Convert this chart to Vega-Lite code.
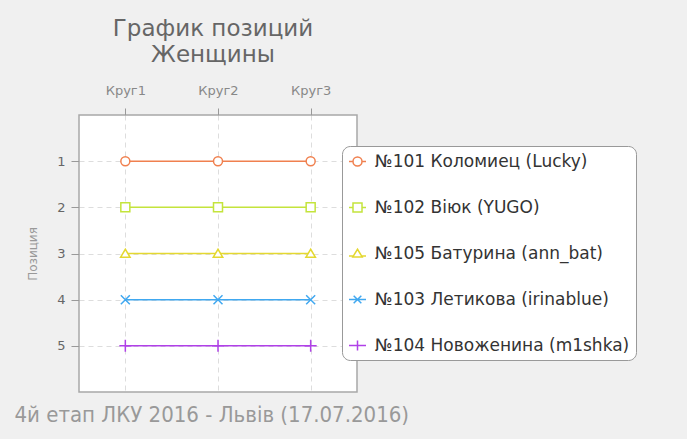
{
  "$schema": "https://vega.github.io/schema/vega-lite/v6.json",
  "autosize": "none",
  "width": 278,
  "height": 277,
  "padding": {"left": 79, "top": 115, "right": 330, "bottom": 47},
  "background": "#f0f0f0",
  "title": {
    "text": ["График позиций", "Женщины"],
    "fontSize": 23,
    "font": "DejaVu Sans",
    "fontWeight": "normal",
    "color": "#666666",
    "lineHeight": 26,
    "anchor": "middle",
    "dx": -5,
    "offset": 17
  },
  "config": {
    "font": "DejaVu Sans",
    "view": {"stroke": "#a8a8a8", "strokeWidth": 1.5, "fill": "white"},
    "legend": {
      "orient": "none", "legendX": 263, "legendY": 31,
      "fillColor": "white", "strokeColor": "#999999", "cornerRadius": 8,
      "padding": 6,
      "rowPadding": 28,
      "symbolSize": 289, "symbolStrokeWidth": 1.5, "symbolOpacity": 1,
      "labelFontSize": 17, "labelColor": "#333333", "labelOffset": 8, "labelLimit": 400, "labelBaseline": "middle"
    },
    "axisX": {
      "labelAngle": 0, "labelColor": "#888888", "labelFontSize": 13, "labelPadding": 11,
      "tickColor": "#999999", "tickSize": 7, "domain": false,
      "gridColor": "#dddddd", "gridDash": [5, 4]
    },
    "axisY": {
      "titleColor": "#999999", "titleFontSize": 12, "titleFontWeight": "normal", "titlePadding": 17,
      "labelColor": "#666666", "labelFontSize": 13, "labelPadding": 6,
      "tickColor": "#999999", "tickSize": 8, "domain": false,
      "grid": true, "gridColor": "#dddddd", "gridDash": [5, 4]
    }
  },
  "data": {
    "values": [
      {"name": "№101 Коломиец (Lucky)", "round": "Круг1", "pos": 1},
      {"name": "№101 Коломиец (Lucky)", "round": "Круг2", "pos": 1},
      {"name": "№101 Коломиец (Lucky)", "round": "Круг3", "pos": 1},
      {"name": "№102 Вiюк (YUGO)", "round": "Круг1", "pos": 2},
      {"name": "№102 Вiюк (YUGO)", "round": "Круг2", "pos": 2},
      {"name": "№102 Вiюк (YUGO)", "round": "Круг3", "pos": 2},
      {"name": "№105 Батурина (ann_bat)", "round": "Круг1", "pos": 3},
      {"name": "№105 Батурина (ann_bat)", "round": "Круг2", "pos": 3},
      {"name": "№105 Батурина (ann_bat)", "round": "Круг3", "pos": 3},
      {"name": "№103 Летикова (irinablue)", "round": "Круг1", "pos": 4},
      {"name": "№103 Летикова (irinablue)", "round": "Круг2", "pos": 4},
      {"name": "№103 Летикова (irinablue)", "round": "Круг3", "pos": 4},
      {"name": "№104 Новоженина (m1shka)", "round": "Круг1", "pos": 5},
      {"name": "№104 Новоженина (m1shka)", "round": "Круг2", "pos": 5},
      {"name": "№104 Новоженина (m1shka)", "round": "Круг3", "pos": 5}
    ]
  },
  "encoding": {
    "y": {
      "field": "pos", "type": "quantitative",
      "scale": {"domain": [0, 6], "reverse": true, "nice": false, "zero": false},
      "axis": {"values": [1, 2, 3, 4, 5], "title": "Позиция"}
    },
    "color": {
      "field": "name", "type": "nominal",
      "scale": {
        "domain": ["№101 Коломиец (Lucky)", "№102 Вiюк (YUGO)", "№105 Батурина (ann_bat)", "№103 Летикова (irinablue)", "№104 Новоженина (m1shka)"],
        "range": ["#f0804f", "#c4e43c", "#e4d830", "#40a8f0", "#b040e8"]
      },
      "legend": {"title": null}
    }
  },
  "layer": [
    {
      "mark": {"type": "line", "strokeWidth": 1.5},
      "encoding": {
        "x": {
          "field": "round", "type": "nominal",
          "scale": {"type": "point", "padding": 0.5},
          "axis": {"orient": "top", "title": null, "grid": true}
        }
      }
    },
    {
      "transform": [{"filter": "datum.pos === 1"}],
      "mark": {"type": "point", "filled": false, "fill": "white", "strokeWidth": 1.5, "size": 100, "opacity": 1, "shape": "M0.9,0A0.9,0.9,0,1,1,-0.9,0A0.9,0.9,0,1,1,0.9,0Z"},
      "encoding": {"x": {"field": "round", "type": "nominal", "axis": null}}
    },
    {
      "transform": [{"filter": "datum.pos === 2"}],
      "mark": {"type": "point", "filled": false, "fill": "white", "strokeWidth": 1.5, "size": 100, "opacity": 1, "shape": "M-0.9,-0.9H0.9V0.9H-0.9Z"},
      "encoding": {"x": {"field": "round", "type": "nominal", "axis": null}}
    },
    {
      "transform": [{"filter": "datum.pos === 3"}],
      "mark": {"type": "point", "filled": false, "fill": "white", "strokeWidth": 1.5, "size": 100, "opacity": 1, "shape": "M0,-0.85L0.95,0.75H-0.95Z"},
      "encoding": {"x": {"field": "round", "type": "nominal", "axis": null}}
    },
    {
      "transform": [{"filter": "datum.pos === 4"}],
      "mark": {"type": "point", "filled": false, "strokeWidth": 1.5, "size": 100, "opacity": 1, "shape": "M-0.9,-0.9L0.9,0.9M-0.9,0.9L0.9,-0.9"},
      "encoding": {"x": {"field": "round", "type": "nominal", "axis": null}}
    },
    {
      "transform": [{"filter": "datum.pos === 5"}],
      "mark": {"type": "point", "filled": false, "strokeWidth": 1.5, "size": 100, "opacity": 1, "shape": "M-1.2,0H1.2M0,-1.2V1.2"},
      "encoding": {"x": {"field": "round", "type": "nominal", "axis": null}}
    },
    {
      "mark": {"type": "point", "filled": false, "strokeWidth": 1.5, "size": 100, "opacity": 0},
      "encoding": {
        "x": {
          "field": "round", "type": "nominal",
          "axis": {
            "orient": "bottom", "labels": false, "ticks": false, "domain": false, "grid": false,
            "title": "4й етап ЛКУ 2016 - Львів (17.07.2016)",
            "titleFont": "DejaVu Sans Condensed", "titleFontSize": 22, "titleFontWeight": "normal",
            "titleColor": "#999999", "titleAnchor": "start", "titleAlign": "left",
            "titleX": -65, "titleY": 29, "titleBaseline": "alphabetic"
          }
        },
        "shape": {
          "field": "name", "type": "nominal",
          "scale": {
            "domain": ["№101 Коломиец (Lucky)", "№102 Вiюк (YUGO)", "№105 Батурина (ann_bat)", "№103 Летикова (irinablue)", "№104 Новоженина (m1shka)"],
            "range": [
              "M-1,0H-0.53M0.53,0H1M0.53,0A0.53,0.53,0,1,1,-0.53,0A0.53,0.53,0,1,1,0.53,0Z",
              "M-1,0H-0.53M0.53,0H1M-0.53,-0.53H0.53V0.53H-0.53Z",
              "M-1,0.3H-0.5M0.5,0.3H1M0,-0.5L0.55,0.4H-0.55Z",
              "M-1,0H1M-0.45,-0.45L0.45,0.45M-0.45,0.45L0.45,-0.45",
              "M-1,0H1M0,-0.6V0.6"
            ]
          },
          "legend": {"title": null}
        }
      }
    }
  ],
  "resolve": {"axis": {"x": "independent"}}
}
